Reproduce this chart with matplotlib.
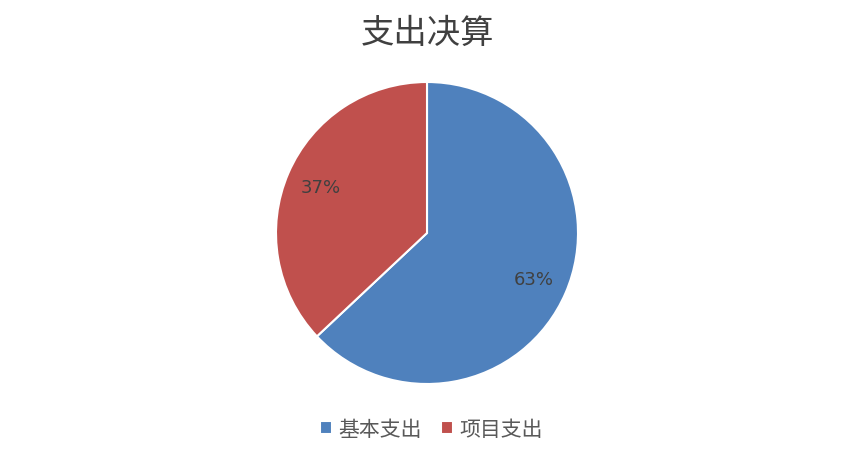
import matplotlib.pyplot as plt

plt.rcParams['font.family'] = ['Noto Sans CJK SC', 'DejaVu Sans']

# 支出决算 data
categories = ['基本支出', '项目支出']
shares = [63, 37]
colors = ['#4F81BD', '#C0504D']

fig = plt.figure(figsize=(8.51, 4.60), dpi=100)

# place the pie axes so the circle sits where the reference has it
cx, cy, r = 427, 234, 151
ax = fig.add_axes([(cx - r) / 851, 1 - (cy + r) / 460, 2 * r / 851, 2 * r / 460])

wedges, texts, autotexts = ax.pie(
    shares, colors=colors, startangle=90, counterclock=False,
    autopct='%1.0f%%', pctdistance=0.77,
    wedgeprops=dict(edgecolor='white', linewidth=1.5),
    textprops=dict(color='#404040', fontsize=13, family=['DejaVu Sans']),
)
ax.set_xlim(-1, 1)
ax.set_ylim(-1, 1)
ax.set_aspect('equal')

fig.text(0.502, 1 - 33 / 460, '支出决算', ha='center', va='center',
         fontsize=24, color='#404040')

fig.legend(wedges, categories, loc='center', bbox_to_anchor=(0.507, 1 - 430 / 460),
           ncol=2, frameon=False, handlelength=0.55, handleheight=0.55,
           handletextpad=0.3, columnspacing=0.95,
           prop=dict(size=15), labelcolor='#595959')

fig.savefig('out.png', dpi=100)
